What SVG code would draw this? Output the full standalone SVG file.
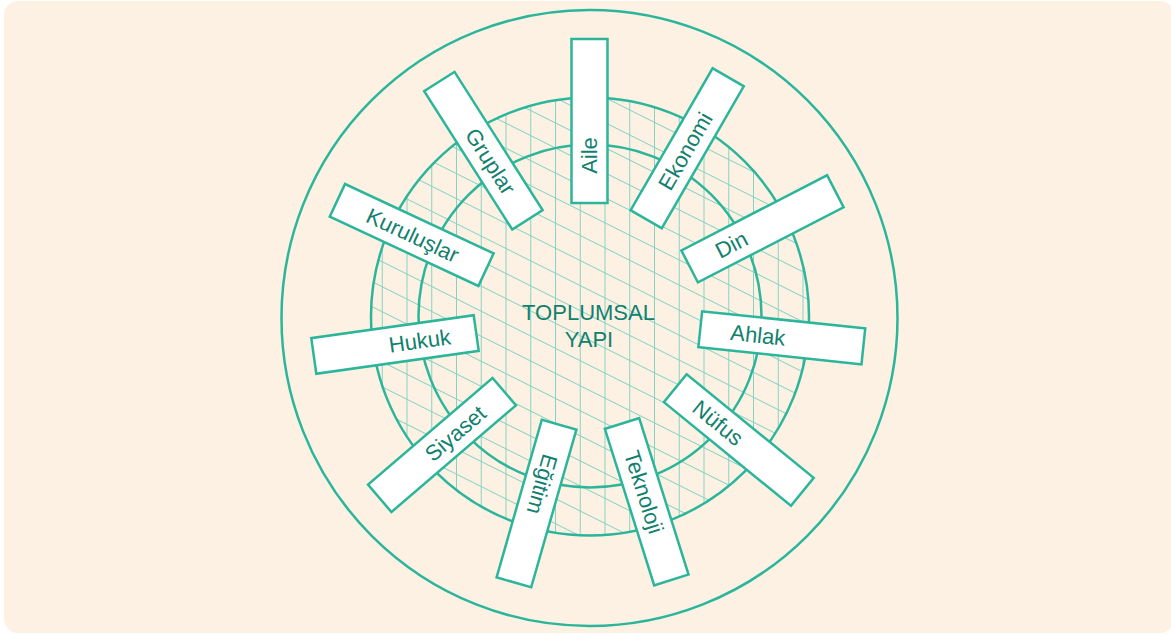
<svg xmlns="http://www.w3.org/2000/svg" width="1171" height="639" viewBox="0 0 1171 639">
<style>
.ring{fill:none;stroke:#2bb59b;stroke-width:2.5}
.box{fill:#ffffff;stroke:#2bb59b;stroke-width:2.5}
.lbl{font-family:"Liberation Sans",Arial,sans-serif;font-size:22px;fill:#11806e;text-anchor:middle}
.hatch{stroke:#86d3c4;stroke-width:1}
</style>
<defs>
<pattern id="vl" patternUnits="userSpaceOnUse" x="493.625" y="0" width="24.75" height="50">
<line class="hatch" x1="12.375" y1="0" x2="12.375" y2="50"/>
</pattern>
<pattern id="dl" patternUnits="userSpaceOnUse" x="0" y="7.1" width="50" height="22.4" patternTransform="rotate(26.57)">
<line class="hatch" x1="0" y1="11.2" x2="50" y2="11.2"/>
</pattern>
</defs>
<rect x="4" y="1" width="1170" height="632" rx="14" fill="#fdf1e3"/>
<g id="rings">
<circle cx="589.5" cy="318" r="308" class="ring"/>
<circle cx="590" cy="316.5" r="219" fill="url(#vl)"/>
<circle cx="590" cy="316.5" r="219" fill="url(#dl)"/>
<circle cx="590" cy="316.5" r="219" class="ring"/>
<circle cx="590" cy="316" r="171.5" class="ring"/>
</g>
<g id="center">
<text class="lbl" x="588.5" y="320">TOPLUMSAL</text>
<text class="lbl" x="589" y="347">YAPI</text>
</g>
<g id="connectors"></g>
<g id="aile" transform="translate(589.5 121) rotate(-90)"><rect class="box" x="-82" y="-18" width="164" height="36"/><text class="lbl" x="-34.5" y="7.5">Aile</text></g>
<g id="ekonomi" transform="translate(687.2 148.2) rotate(-60)"><rect class="box" x="-82" y="-18" width="164" height="36"/><text class="lbl" x="-3.5" y="7.5">Ekonomi</text></g>
<g id="din" transform="translate(762.5 228.8) rotate(-27.3)"><rect class="box" x="-82" y="-18" width="164" height="36"/><text class="lbl" x="-35" y="7.5">Din</text></g>
<g id="ahlak" transform="translate(781.8 337.8) rotate(6)"><rect class="box" x="-82" y="-18" width="164" height="36"/><text class="lbl" x="-24" y="7.5">Ahlak</text></g>
<g id="nufus" transform="translate(738.8 440) rotate(39.2)"><rect class="box" x="-82" y="-18" width="164" height="36"/><text class="lbl" x="-27" y="7.5">Nüfus</text></g>
<g id="teknoloji" transform="translate(646.7 501.7) rotate(72.5)"><rect class="box" x="-82" y="-18" width="164" height="36"/><text class="lbl" x="-10" y="7.5">Teknoloji</text></g>
<g id="egitim" transform="translate(536.5 503.5) rotate(106)"><rect class="box" x="-82" y="-18" width="164" height="36"/><text class="lbl" x="-20" y="7.5">Eğitim</text></g>
<g id="siyaset" transform="translate(442 445) rotate(-40.6)"><rect class="box" x="-82" y="-18" width="164" height="36"/><text class="lbl" x="17.7" y="7.5">Siyaset</text></g>
<g id="hukuk" transform="translate(395 344.5) rotate(-8)"><rect class="box" x="-82" y="-18" width="164" height="36"/><text class="lbl" x="25" y="7.5">Hukuk</text></g>
<g id="kuruluslar" transform="translate(411.7 235) rotate(25)"><rect class="box" x="-82" y="-18" width="164" height="36"/><text class="lbl" x="1" y="7.5">Kuruluşlar</text></g>
<g id="gruplar" transform="translate(483.4 150.7) rotate(57.5)"><rect class="box" x="-82" y="-18" width="164" height="36"/><text class="lbl" x="12.8" y="7.5">Gruplar</text></g>
</svg>
